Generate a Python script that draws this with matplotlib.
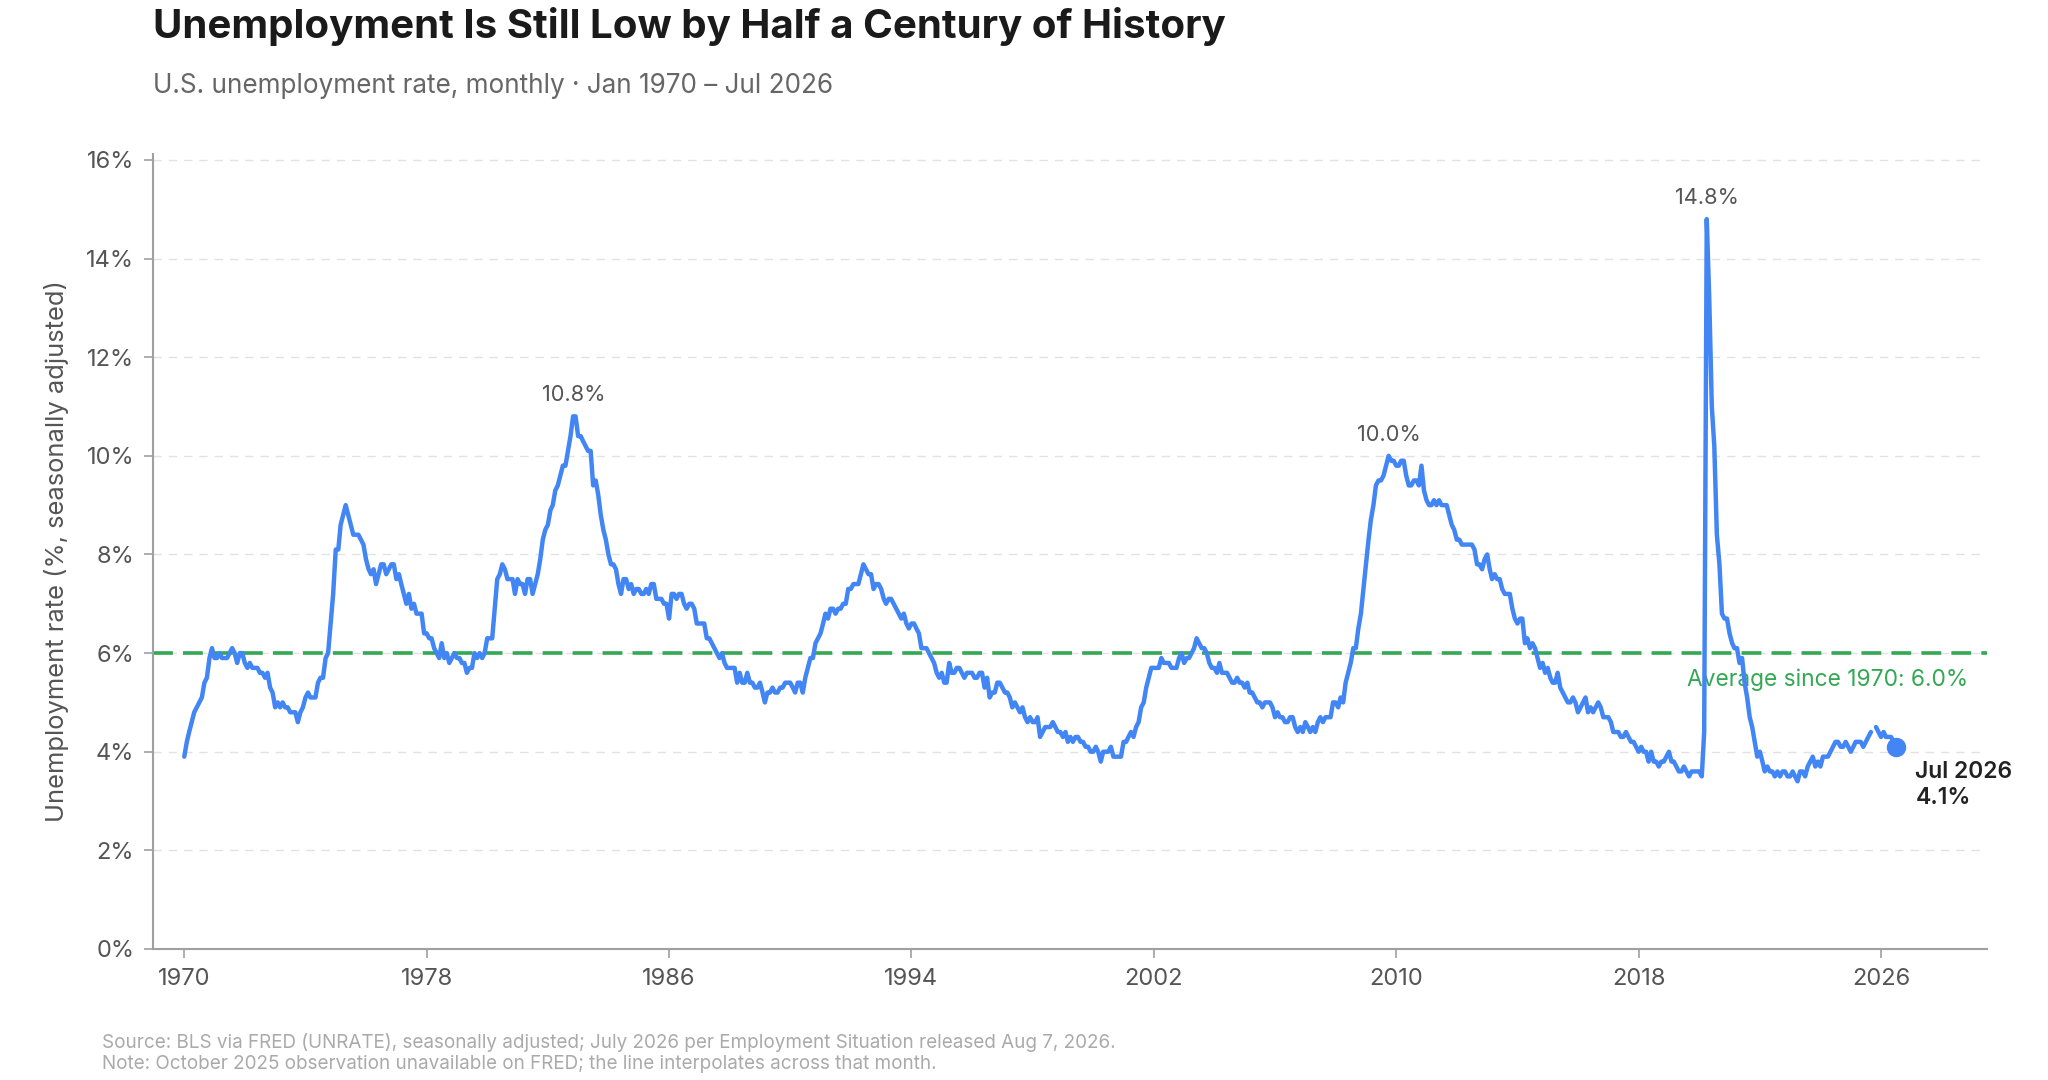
import numpy as np
import pandas as pd
import matplotlib
matplotlib.use("Agg")
import matplotlib.pyplot as plt

plt.rcParams['font.family'] = ['Inter', 'DejaVu Sans']

# U.S. unemployment rate (%), monthly, seasonally adjusted -- one list per decade
rate_1970s = [
    3.9, 4.2, 4.4, 4.6, 4.8, 4.9, 5.0, 5.1, 5.4, 5.5, 5.9, 6.1,
    5.9, 5.9, 6.0, 5.9, 5.9, 5.9, 6.0, 6.1, 6.0, 5.8, 6.0, 6.0,
    5.8, 5.7, 5.8, 5.7, 5.7, 5.7, 5.6, 5.6, 5.5, 5.6, 5.3, 5.2,
    4.9, 5.0, 4.9, 5.0, 4.9, 4.9, 4.8, 4.8, 4.8, 4.6, 4.8, 4.9,
    5.1, 5.2, 5.1, 5.1, 5.1, 5.4, 5.5, 5.5, 5.9, 6.0, 6.6, 7.2,
    8.1, 8.1, 8.6, 8.8, 9.0, 8.8, 8.6, 8.4, 8.4, 8.4, 8.3, 8.2,
    7.9, 7.7, 7.6, 7.7, 7.4, 7.6, 7.8, 7.8, 7.6, 7.7, 7.8, 7.8,
    7.5, 7.6, 7.4, 7.2, 7.0, 7.2, 6.9, 7.0, 6.8, 6.8, 6.8, 6.4,
    6.4, 6.3, 6.3, 6.1, 6.0, 5.9, 6.2, 5.9, 6.0, 5.8, 5.9, 6.0,
    5.9, 5.9, 5.8, 5.8, 5.6, 5.7, 5.7, 6.0, 5.9, 6.0, 5.9, 6.0,
]
rate_1980s = [
    6.3, 6.3, 6.3, 6.9, 7.5, 7.6, 7.8, 7.7, 7.5, 7.5, 7.5, 7.2,
    7.5, 7.4, 7.4, 7.2, 7.5, 7.5, 7.2, 7.4, 7.6, 7.9, 8.3, 8.5,
    8.6, 8.9, 9.0, 9.3, 9.4, 9.6, 9.8, 9.8, 10.1, 10.4, 10.8, 10.8,
    10.4, 10.4, 10.3, 10.2, 10.1, 10.1, 9.4, 9.5, 9.2, 8.8, 8.5, 8.3,
    8.0, 7.8, 7.8, 7.7, 7.4, 7.2, 7.5, 7.5, 7.3, 7.4, 7.2, 7.3,
    7.3, 7.2, 7.2, 7.3, 7.2, 7.4, 7.4, 7.1, 7.1, 7.1, 7.0, 7.0,
    6.7, 7.2, 7.2, 7.1, 7.2, 7.2, 7.0, 6.9, 7.0, 7.0, 6.9, 6.6,
    6.6, 6.6, 6.6, 6.3, 6.3, 6.2, 6.1, 6.0, 5.9, 6.0, 5.8, 5.7,
    5.7, 5.7, 5.7, 5.4, 5.6, 5.4, 5.4, 5.6, 5.4, 5.4, 5.3, 5.3,
    5.4, 5.2, 5.0, 5.2, 5.2, 5.3, 5.2, 5.2, 5.3, 5.3, 5.4, 5.4,
]
rate_1990s = [
    5.4, 5.3, 5.2, 5.4, 5.4, 5.2, 5.5, 5.7, 5.9, 5.9, 6.2, 6.3,
    6.4, 6.6, 6.8, 6.7, 6.9, 6.9, 6.8, 6.9, 6.9, 7.0, 7.0, 7.3,
    7.3, 7.4, 7.4, 7.4, 7.6, 7.8, 7.7, 7.6, 7.6, 7.3, 7.4, 7.4,
    7.3, 7.1, 7.0, 7.1, 7.1, 7.0, 6.9, 6.8, 6.7, 6.8, 6.6, 6.5,
    6.6, 6.6, 6.5, 6.4, 6.1, 6.1, 6.1, 6.0, 5.9, 5.8, 5.6, 5.5,
    5.6, 5.4, 5.4, 5.8, 5.6, 5.6, 5.7, 5.7, 5.6, 5.5, 5.6, 5.6,
    5.6, 5.5, 5.5, 5.6, 5.6, 5.3, 5.5, 5.1, 5.2, 5.2, 5.4, 5.4,
    5.3, 5.2, 5.2, 5.1, 4.9, 5.0, 4.9, 4.8, 4.9, 4.7, 4.6, 4.7,
    4.6, 4.6, 4.7, 4.3, 4.4, 4.5, 4.5, 4.5, 4.6, 4.5, 4.4, 4.4,
    4.3, 4.4, 4.2, 4.3, 4.2, 4.3, 4.3, 4.2, 4.2, 4.1, 4.1, 4.0,
]
rate_2000s = [
    4.0, 4.1, 4.0, 3.8, 4.0, 4.0, 4.0, 4.1, 3.9, 3.9, 3.9, 3.9,
    4.2, 4.2, 4.3, 4.4, 4.3, 4.5, 4.6, 4.9, 5.0, 5.3, 5.5, 5.7,
    5.7, 5.7, 5.7, 5.9, 5.8, 5.8, 5.8, 5.7, 5.7, 5.7, 5.9, 6.0,
    5.8, 5.9, 5.9, 6.0, 6.1, 6.3, 6.2, 6.1, 6.1, 6.0, 5.8, 5.7,
    5.7, 5.6, 5.8, 5.6, 5.6, 5.6, 5.5, 5.4, 5.4, 5.5, 5.4, 5.4,
    5.3, 5.4, 5.2, 5.2, 5.1, 5.0, 5.0, 4.9, 5.0, 5.0, 5.0, 4.9,
    4.7, 4.8, 4.7, 4.7, 4.6, 4.6, 4.7, 4.7, 4.5, 4.4, 4.5, 4.4,
    4.6, 4.5, 4.4, 4.5, 4.4, 4.6, 4.7, 4.6, 4.7, 4.7, 4.7, 5.0,
    5.0, 4.9, 5.1, 5.0, 5.4, 5.6, 5.8, 6.1, 6.1, 6.5, 6.8, 7.3,
    7.8, 8.3, 8.7, 9.0, 9.4, 9.5, 9.5, 9.6, 9.8, 10.0, 9.9, 9.9,
]
rate_2010s = [
    9.8, 9.8, 9.9, 9.9, 9.6, 9.4, 9.4, 9.5, 9.5, 9.4, 9.8, 9.3,
    9.1, 9.0, 9.0, 9.1, 9.0, 9.1, 9.0, 9.0, 9.0, 8.8, 8.6, 8.5,
    8.3, 8.3, 8.2, 8.2, 8.2, 8.2, 8.2, 8.1, 7.8, 7.8, 7.7, 7.9,
    8.0, 7.7, 7.5, 7.6, 7.5, 7.5, 7.3, 7.2, 7.2, 7.2, 6.9, 6.7,
    6.6, 6.7, 6.7, 6.2, 6.3, 6.1, 6.2, 6.1, 5.9, 5.7, 5.8, 5.6,
    5.7, 5.5, 5.4, 5.4, 5.6, 5.3, 5.2, 5.1, 5.0, 5.0, 5.1, 5.0,
    4.8, 4.9, 5.0, 5.1, 4.8, 4.9, 4.8, 4.9, 5.0, 4.9, 4.7, 4.7,
    4.7, 4.6, 4.4, 4.4, 4.4, 4.3, 4.3, 4.4, 4.3, 4.2, 4.2, 4.1,
    4.0, 4.1, 4.0, 4.0, 3.8, 4.0, 3.8, 3.8, 3.7, 3.8, 3.8, 3.9,
    4.0, 3.8, 3.8, 3.7, 3.6, 3.6, 3.7, 3.6, 3.5, 3.6, 3.6, 3.6,
]
# Oct 2025 is missing on FRED
rate_2020s = [
    3.6, 3.5, 4.4, 14.8, 13.2, 11.0, 10.2, 8.4, 7.8, 6.8, 6.7, 6.7,
    6.4, 6.2, 6.1, 6.1, 5.8, 5.9, 5.4, 5.1, 4.7, 4.5, 4.2, 3.9,
    4.0, 3.8, 3.6, 3.7, 3.6, 3.6, 3.5, 3.6, 3.5, 3.6, 3.6, 3.5,
    3.5, 3.6, 3.5, 3.4, 3.6, 3.6, 3.5, 3.7, 3.8, 3.9, 3.7, 3.8,
    3.7, 3.9, 3.9, 3.9, 4.0, 4.1, 4.2, 4.2, 4.1, 4.1, 4.2, 4.1,
    4.0, 4.1, 4.2, 4.2, 4.2, 4.1, 4.2, 4.3, 4.4, np.nan, 4.5, 4.4,
    4.3, 4.4, 4.3, 4.3, 4.3, 4.2, 4.1,
]
avg_rate = 6.0
peak_dates = ['1982-11-15', '2009-10-01', '2020-04-01']
peak_values = [10.8, 10.0, 14.8]
tick_years = [1970, 1978, 1986, 1994, 2002, 2010, 2018, 2026]
y_ticks = [0, 2, 4, 6, 8, 10, 12, 14, 16]

BLUE = '#4285F4'
GREEN = '#34A853'

rate = np.array(rate_1970s + rate_1980s + rate_1990s + rate_2000s
                + rate_2010s + rate_2020s, dtype=float)
dates = pd.date_range('1970-01-01', periods=len(rate), freq='MS')

fig = plt.figure(figsize=(20.48, 10.8), dpi=100)
ax = fig.add_axes([0.0747, 0.1213, 0.8955, 0.7361])

# Grid + reference line
ax.set_yticks(y_ticks)
ax.yaxis.grid(True, color='#e2e2e2', lw=1.0, linestyle=(0, (6, 5)))
ax.set_axisbelow(True)
ax.axhline(avg_rate, color=GREEN, lw=2.6, dashes=(5.5, 2.8), zorder=2)
ax.text(pd.Timestamp('2028-11-15'), 5.46, 'Average since 1970: 6.0%', color=GREEN,
        fontsize=16.4, ha='right', va='center')

# Main series
ax.plot(dates, rate, color=BLUE, lw=3.2, zorder=3, solid_joinstyle='round',
        solid_capstyle='round')
ax.plot(dates[-1], rate[-1], 'o', color=BLUE, ms=13, zorder=4)
ax.annotate('Jul 2026\n4.1%', (dates[-1], rate[-1]), xytext=(14, -10),
            textcoords='offset points', ha='left', va='top', fontsize=16.5,
            fontweight='semibold', color='#222222', linespacing=1.25)

# Peak labels
for d, v in zip(peak_dates, peak_values):
    ax.annotate(f'{v:.1f}%', (pd.Timestamp(d), v), xytext=(0, 11),
                textcoords='offset points', ha='center', va='baseline',
                fontsize=15.7, color='#555555')

# Axes styling
ax.set_ylim(0, 16.12)
ax.set_xlim(pd.Timestamp('1968-12-20'), pd.Timestamp('2029-07-01'))
ax.set_xticks([pd.Timestamp(f'{y}-01-01') for y in tick_years])
ax.set_xticklabels([str(y) for y in tick_years])
ax.set_yticklabels([f'{v}%' for v in y_ticks])
for side in ['top', 'right']:
    ax.spines[side].set_visible(False)
for side in ['left', 'bottom']:
    ax.spines[side].set_color('#a0a0a0')
    ax.spines[side].set_linewidth(1.5)
ax.tick_params(axis='both', length=6.5, width=1.2, color='#a0a0a0',
               labelsize=17, labelcolor='#555555', pad=7)
ax.set_ylabel('Unemployment rate (%, seasonally adjusted)', fontsize=18.4,
              color='#555555')
ax.yaxis.set_label_coords(-0.046, 0.5)

# Titles and footer
fig.text(0.0747, 0.965, 'Unemployment Is Still Low by Half a Century of History',
         fontsize=29, fontweight='bold', color='#1a1a1a', va='baseline')
fig.text(0.0747, 0.914, 'U.S. unemployment rate, monthly · Jan 1970 – Jul 2026',
         fontsize=18.8, color='#666666', va='baseline')
fig.text(0.050, 0.035, 'Source: BLS via FRED (UNRATE), seasonally adjusted; '
         'July 2026 per Employment Situation released Aug 7, 2026.',
         fontsize=13.6, color='#aaaaaa', va='center')
fig.text(0.050, 0.0150, 'Note: October 2025 observation unavailable on FRED; '
         'the line interpolates across that month.',
         fontsize=13.6, color='#aaaaaa', va='center')

fig.savefig('out.png', dpi=100)
